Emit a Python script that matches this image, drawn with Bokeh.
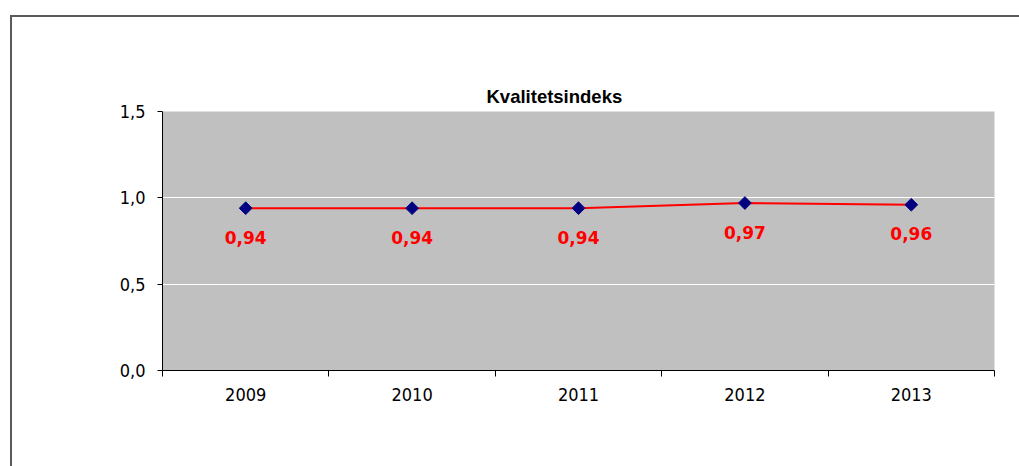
import math
from bokeh.plotting import figure
from bokeh.models import (ColumnDataSource, Range1d, FixedTicker, LinearAxis,
                          CustomJSTickFormatter, Grid, Title)
from bokeh.core.properties import value
from bokeh.embed import file_html
from bokeh.resources import INLINE

# ---- data ----
years = ["2009", "2010", "2011", "2012", "2013"]
quality_index = [0.94, 0.94, 0.94, 0.97, 0.96]
y_ticks = [0.0, 0.5, 1.0, 1.5]
title_text = "Kvalitetsindeks"

n = len(years)
centers = [i + 0.5 for i in range(n)]          # category centres on a 0..n axis
edges = list(range(n + 1))                     # category boundaries
labels = [f"{v:.2f}".replace(".", ",") for v in quality_index]
source = ColumnDataSource(dict(x=centers, y=quality_index, label=labels))

p = figure(
    x_range=Range1d(0, n), y_range=Range1d(0, 1.5),
    width=1009, height=451,
    output_backend="svg", toolbar_location=None, tools="",
    x_axis_location=None, y_axis_location=None, title=None,
    min_border_left=152, min_border_right=25,
    min_border_top=96, min_border_bottom=96,
    margin=(15, 0, 0, 10),
    styles={"box-shadow": "inset 2px 2px 0 0 #5a5a5a", "background-color": "white"},
)
p.background_fill_color = "#C0C0C0"
p.border_fill_color = None
p.outline_line_color = None

# invisible spacer title next to the plot area, then the real title above it
spacer = Title(text="\u00a0", text_alpha=0, text_font_size="18.5px", standoff=25)
p.add_layout(spacer, "above")
main_title = Title(text=title_text, align="left", offset=324, standoff=10,
                   text_font="Liberation Sans", text_font_style="bold",
                   text_font_size="18.5px", text_color="black")
p.add_layout(main_title, "above")

# y axis
yax = LinearAxis(
    ticker=FixedTicker(ticks=y_ticks),
    formatter=CustomJSTickFormatter(code="return tick.toFixed(1).replace('.', ',');"),
    major_tick_out=5, major_tick_in=0, minor_tick_line_color=None,
    axis_line_color="black", major_tick_line_color="black",
    major_label_standoff=12,
    major_label_text_font="DejaVu Sans Condensed",
    major_label_text_font_size="18px", major_label_text_color="black",
)
p.add_layout(yax, "left")

# x axis: boundary ticks (no labels)
edge_ax = LinearAxis(
    ticker=FixedTicker(ticks=edges),
    formatter=CustomJSTickFormatter(code="return '';"),
    major_tick_out=6, major_tick_in=0, minor_tick_line_color=None,
    axis_line_color="black", major_tick_line_color="black",
    major_label_text_font_size="1px", major_label_standoff=0,
)
p.add_layout(edge_ax, "below")

# x axis: category labels (no ticks)
cat_ax = LinearAxis(
    ticker=FixedTicker(ticks=centers),
    formatter=CustomJSTickFormatter(args=dict(years=years),
                                    code="return years[Math.floor(tick)];"),
    axis_line_color=None, major_tick_line_color=None, minor_tick_line_color=None,
    major_label_standoff=5,
    major_label_text_font="DejaVu Sans Condensed",
    major_label_text_font_size="18px", major_label_text_color="black",
)
p.add_layout(cat_ax, "below")

p.xgrid.grid_line_color = None
p.ygrid.grid_line_color = None
p.add_layout(Grid(dimension=1, ticker=yax.ticker, grid_line_color="white", grid_line_width=1))

# series
p.line("x", "y", source=source, line_color="#FF0000", line_width=2)
p.scatter("x", "y", source=source, marker="square", angle=math.pi / 4, size=9,
          fill_color="#000080", line_color="#000080")
p.text("x", "y", text="label", source=source, text_align="center", text_baseline="middle",
       y_offset=29, text_font=value("DejaVu Sans"), text_font_style="bold",
       text_font_size="17px", text_color="#FF0000")

open("out.html", "w").write(file_html(p, INLINE))
